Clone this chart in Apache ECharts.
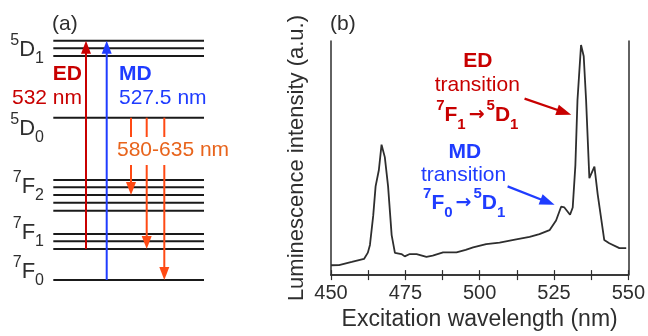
<!DOCTYPE html>
<html><head><meta charset="utf-8">
<script src="https://cdn.jsdelivr.net/npm/echarts@6/dist/echarts.min.js"></script>
<style>html,body{margin:0;padding:0;background:#fff}#c{width:648px;height:336px}</style>
</head><body><div id="c"></div>
<script>
// ---------- Panel (b): excitation spectrum ----------
const wavelengths = [450.0,452.7,457.0,461.1,462.4,463.1,464.2,465.0,466.1,467.0,468.1,469.2,470.4,471.5,473.7,474.8,476.5,478.8,482.1,484.2,487.7,492.2,495.3,497.8,502.2,506.7,512.3,516.8,520.1,523.5,525.7,527.4,528.5,530.4,531.3,532.2,532.9,534.1,535.0,535.8,536.9,538.6,539.7,541.9,543.6,547.0,549.3];
const intensities = [0.042,0.043,0.056,0.069,0.096,0.129,0.254,0.379,0.449,0.557,0.504,0.379,0.171,0.095,0.090,0.080,0.090,0.090,0.078,0.083,0.097,0.097,0.108,0.118,0.132,0.139,0.153,0.163,0.175,0.192,0.233,0.292,0.289,0.258,0.289,0.470,0.747,0.983,0.935,0.747,0.414,0.463,0.345,0.150,0.136,0.115,0.115];
const xTickLabels = [450,475,500,525,550];
// annotation arrows in spectrum coords [fromNm, fromI, toNm, toI]
const edPointer = [515.1, 0.754, 530.8, 0.685];
const mdPointer = [509.4, 0.379, 525.2, 0.300];

// ---------- Panel (a): energy level diagram (arbitrary energy units, 7F0 = 0) ----------
const levelEnergies = [0, 31, 38.7, 46, 69.3, 77.3, 85, 92.7, 100, 162.3, 224, 231.7, 239.3];
const levelSpan = [53.3, 204];
const edExcitation = [86, 31, 239.3];      // x, from, to
const mdExcitation = [106.7, 0, 239.3];
const emissionX = [131, 146.7, 164.3];
const emissionFrom = 162.3;
const emissionGap = [143, 115];
const emissionTo = [85, 31, 0];

const FONT = 'Liberation Sans, Arial, sans-serif';
const RED = '#c80000', BLUE = '#1f3cff', ORANGE = '#ff4a14', ORANGE_TXT = '#e8641c', INK = '#2e2e2e';

function segRenderer(color, width, headLen, headWid) {
  return function (params, api) {
    const p1 = api.coord([api.value(0), api.value(1)]);
    const p2 = api.coord([api.value(2), api.value(3)]);
    const withHead = api.value(4) === 1;
    const dx = p2[0] - p1[0], dy = p2[1] - p1[1];
    const L = Math.hypot(dx, dy) || 1;
    const ux = dx / L, uy = dy / L;
    const end = withHead ? [p2[0] - ux * headLen * 0.7, p2[1] - uy * headLen * 0.7] : p2;
    const children = [{type: 'line', shape: {x1: p1[0], y1: p1[1], x2: end[0], y2: end[1]},
      style: {stroke: color, lineWidth: width}}];
    if (withHead) {
      const bx = p2[0] - ux * headLen, by = p2[1] - uy * headLen;
      children.push({type: 'polygon', shape: {points: [[p2[0], p2[1]],
        [bx - uy * headWid / 2, by + ux * headWid / 2], [bx + uy * headWid / 2, by - ux * headWid / 2]]},
        style: {fill: color}});
    }
    return {type: 'group', children};
  };
}
function segSeries(grid, data, color, width, headLen, headWid) {
  return {type: 'custom', xAxisIndex: grid === 0 ? 0 : 1, yAxisIndex: grid === 0 ? 0 : 1,
    renderItem: segRenderer(color, width, headLen, headWid), data, clip: false, silent: true,
    dimensions: ['x1', 'y1', 'x2', 'y2', 'h'], encode: {x: [0, 2], y: [1, 3]}, z: 5};
}
function textSeries(grid, items) {
  return {type: 'scatter', xAxisIndex: grid === 0 ? 0 : 1, yAxisIndex: grid === 0 ? 0 : 1,
    symbolSize: 0, silent: true, z: 10, itemStyle: {opacity: 1},
    data: items.map(it => ({value: [it.x, it.y], label: Object.assign({show: true, distance: 0,
      opacity: 1, fontFamily: FONT}, it.label)}))};
}
function levelRich(main, sup, sub) {
  return {formatter: '{s|' + sup + '}{m|' + main + '}{b|' + sub + '}', color: INK,
    rich: {s: {fontSize: 16, lineHeight: 16, verticalAlign: 'top', color: INK, fontFamily: FONT},
      m: {fontSize: 22, lineHeight: 34, color: INK, fontFamily: FONT},
      b: {fontSize: 16, lineHeight: 16, verticalAlign: 'bottom', color: INK, fontFamily: FONT}}};
}
function formulaRich(color, a, a1, b, b1, c, c1) {
  const base = {color, fontFamily: FONT, fontWeight: 'bold'};
  return {formatter: '{s|' + a + '}{m|' + b + '}{b|' + a1 + '}{a|→}{s|' + c + '}{m|' + c1 + '}{b|' + b1 + '}',
    rich: {s: Object.assign({fontSize: 15, lineHeight: 15, verticalAlign: 'top'}, base),
      m: Object.assign({fontSize: 21, lineHeight: 32}, base),
      a: {color, fontFamily: 'DejaVu Sans', fontWeight: 'bold', fontSize: 19, lineHeight: 34, padding: [0, 2, 0, 3]},
      b: Object.assign({fontSize: 15, lineHeight: 15, verticalAlign: 'bottom'}, base)}};
}

// data for panel (a) segments
const levelSegs = levelEnergies.map(e => [levelSpan[0], e, levelSpan[1], e, 0]);
const edSegs = [[edExcitation[0], edExcitation[1], edExcitation[0], edExcitation[2], 1]];
const mdSegs = [[mdExcitation[0], mdExcitation[1], mdExcitation[0], mdExcitation[2], 1]];
const emSegs = [];
emissionX.forEach((x, i) => {
  emSegs.push([x, emissionFrom, x, emissionGap[0], 0]);
  emSegs.push([x, emissionGap[1], x, emissionTo[i], 1]);
});

const chart = echarts.init(document.getElementById('c'), null, {renderer: 'canvas'});
chart.setOption({
  animation: false,
  backgroundColor: '#fff',
  textStyle: {fontFamily: FONT},
  title: [
    {text: '(a)', left: 52, top: 14, padding: 0, textStyle: {fontSize: 21, fontWeight: 'normal', color: INK, fontFamily: FONT}},
    {text: '(b)', left: 330, top: 14, padding: 0, textStyle: {fontSize: 21, fontWeight: 'normal', color: INK, fontFamily: FONT}}
  ],
  grid: [
    {left: 0, top: 20, width: 220, height: 280, show: false},
    {left: 331, top: 41, width: 298, height: 240, show: false}
  ],
  xAxis: [
    {type: 'value', gridIndex: 0, min: 0, max: 220, show: false},
    {type: 'value', gridIndex: 1, min: 450, max: 550, interval: 12.5,
      axisLine: {show: true, lineStyle: {color: INK, width: 1.5}},
      axisTick: {show: true, inside: true, length: 5, lineStyle: {color: INK, width: 1.2}},
      axisLabel: {show: true, fontSize: 20, color: INK, margin: 8, fontFamily: FONT,
        formatter: v => (xTickLabels.indexOf(v) >= 0 ? String(v) : '')},
      splitLine: {show: false},
      name: 'Excitation wavelength (nm)', nameLocation: 'middle', nameGap: 32,
      nameTextStyle: {fontSize: 23, color: INK, fontFamily: FONT}},
    {type: 'value', gridIndex: 1, min: 450, max: 550, interval: 12.5, position: 'top',
      axisLine: {show: true, lineStyle: {color: INK, width: 1.5}},
      axisTick: {show: true, inside: true, length: 5, lineStyle: {color: INK, width: 1.2}},
      axisLabel: {show: false}, splitLine: {show: false}}
  ],
  yAxis: [
    {type: 'value', gridIndex: 0, min: -20, max: 260, show: false},
    {type: 'value', gridIndex: 1, min: 0, max: 1,
      axisLine: {show: true, lineStyle: {color: INK, width: 1.5}},
      axisTick: {show: false}, axisLabel: {show: false}, splitLine: {show: false},
      name: 'Luminescence intensity (a.u.)', nameLocation: 'middle', nameGap: 23,
      nameTextStyle: {fontSize: 22, color: INK, fontFamily: FONT}},
    {type: 'value', gridIndex: 1, min: 0, max: 1, position: 'right',
      axisLine: {show: true, lineStyle: {color: INK, width: 1.5}},
      axisTick: {show: false}, axisLabel: {show: false}, splitLine: {show: false}}
  ],
  series: [
    // panel (a)
    segSeries(0, levelSegs, '#1a1a1a', 2, 0, 0),
    segSeries(0, edSegs, RED, 2, 13, 10),
    segSeries(0, mdSegs, BLUE, 2, 13, 10),
    segSeries(0, emSegs, ORANGE, 2, 13, 10),
    textSeries(0, [
      {x: 44, y: 230.5, label: Object.assign({position: 'left'}, levelRich('D', '5', '1'))},
      {x: 44, y: 151.5, label: Object.assign({position: 'left'}, levelRich('D', '5', '0'))},
      {x: 44, y: 93, label: Object.assign({position: 'left'}, levelRich('F', '7', '2'))},
      {x: 44, y: 47.5, label: Object.assign({position: 'left'}, levelRich('F', '7', '1'))},
      {x: 44, y: 8.5, label: Object.assign({position: 'left'}, levelRich('F', '7', '0'))},
      {x: 82, y: 205.5, label: {position: 'left', formatter: 'ED', fontSize: 21, fontWeight: 'bold', color: RED}},
      {x: 82, y: 181.5, label: {position: 'left', formatter: '532 nm', fontSize: 21, color: RED}},
      {x: 119, y: 205.5, label: {position: 'right', formatter: 'MD', fontSize: 21, fontWeight: 'bold', color: BLUE}},
      {x: 119, y: 181.5, label: {position: 'right', formatter: '527.5 nm', fontSize: 21, color: BLUE}},
      {x: 117, y: 129.5, label: {position: 'right', formatter: '580-635 nm', fontSize: 21, color: ORANGE_TXT}}
    ]),
    // panel (b)
    {type: 'line', xAxisIndex: 1, yAxisIndex: 1, showSymbol: false, symbol: 'none', silent: true,
      data: wavelengths.map((w, i) => [w, intensities[i]]),
      lineStyle: {color: INK, width: 1.8}, z: 3},
    segSeries(1, [edPointer.concat([1])], RED, 2.2, 15, 11),
    segSeries(1, [mdPointer.concat([1])], BLUE, 2.2, 15, 11),
    textSeries(1, [
      {x: 499.4, y: 0.915, label: {position: 'inside', formatter: 'ED', fontSize: 21, fontWeight: 'bold', color: RED}},
      {x: 499.2, y: 0.810, label: {position: 'inside', formatter: 'transition', fontSize: 21, color: RED}},
      {x: 499.2, y: 0.683, label: Object.assign({position: 'inside'}, formulaRich(RED, '7', '1', 'F', '1', '5', 'D'))},
      {x: 495.0, y: 0.527, label: {position: 'inside', formatter: 'MD', fontSize: 21, fontWeight: 'bold', color: BLUE}},
      {x: 494.6, y: 0.427, label: {position: 'inside', formatter: 'transition', fontSize: 21, color: BLUE}},
      {x: 494.8, y: 0.306, label: Object.assign({position: 'inside'}, formulaRich(BLUE, '7', '0', 'F', '1', '5', 'D'))}
    ])
  ]
});
</script></body></html>
